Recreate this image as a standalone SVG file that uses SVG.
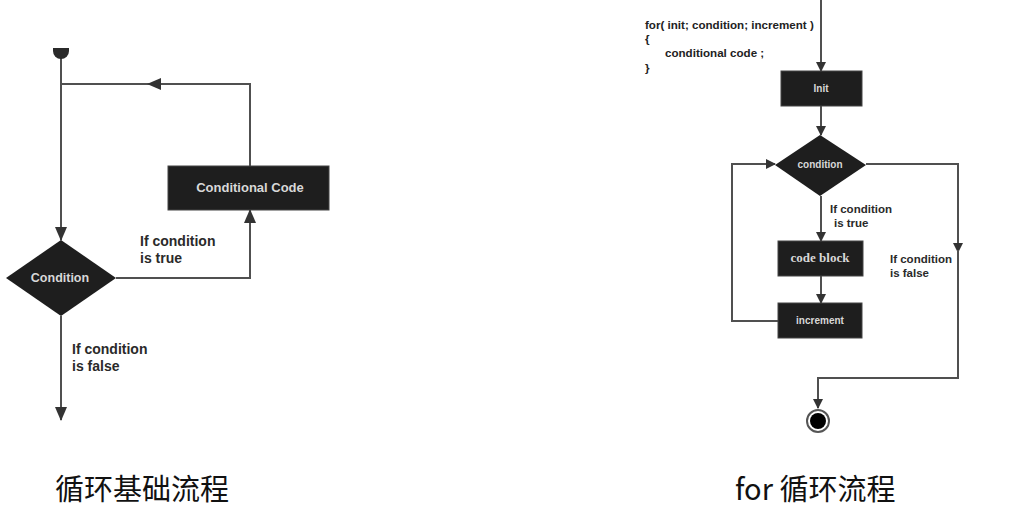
<svg xmlns="http://www.w3.org/2000/svg" width="1019" height="531" viewBox="0 0 1019 531">
<style>
.ln{fill:none;stroke:#505050;stroke-width:2}
.box{fill:#1e1e1e;stroke:#444;stroke-width:1}
.bt{font-family:"Liberation Sans",Arial,sans-serif;font-weight:bold;fill:#d8d8d8;text-anchor:middle}
.lb{font-family:"Liberation Sans",Arial,sans-serif;font-weight:bold;fill:#2a2a2a;font-size:14px}
.lr{font-family:"Liberation Sans",Arial,sans-serif;font-weight:bold;fill:#2a2a2a;font-size:11.5px}
.cd{font-family:"Liberation Sans",Arial,sans-serif;font-weight:bold;fill:#222;font-size:11.6px}
.cap{font-family:"Noto Sans CJK SC","Noto Sans",sans-serif;fill:#111;font-size:29px}
</style>
<defs>
<marker id="ah" markerWidth="10" markerHeight="10" refX="9" refY="5" orient="auto" markerUnits="userSpaceOnUse">
<path d="M0,0 L10,5 L0,10 z" fill="#333"/>
</marker>
<marker id="ah2" markerWidth="14" markerHeight="14" refX="13" refY="7" orient="auto" markerUnits="userSpaceOnUse">
<path d="M0,1 L14,7 L0,13 z" fill="#333"/>
</marker>
</defs>
<rect width="1019" height="531" fill="#ffffff"/>
<g id="connectors">
<path class="ln" d="M61,56 L61,240" marker-end="url(#ah2)"/>
<path class="ln" d="M250,166 L250,84 L61,84"/>
<path class="ln" d="M250,84 L148,84" marker-end="url(#ah2)"/>
<path class="ln" d="M116,278 L250,278 L250,210" marker-end="url(#ah2)"/>
<path class="ln" d="M61,316 L61,420" marker-end="url(#ah2)"/>
<path class="ln" d="M821,0 L821,71" marker-end="url(#ah)"/>
<path class="ln" d="M821,106 L821,135" marker-end="url(#ah)"/>
<path class="ln" d="M821,196 L821,241" marker-end="url(#ah)"/>
<path class="ln" d="M821,276 L821,303" marker-end="url(#ah)"/>
<path class="ln" d="M778,321 L732,321 L732,164 L775,164" marker-end="url(#ah)"/>
<path class="ln" d="M866,164 L958,164 L958,252" marker-end="url(#ah)"/>
<path class="ln" d="M958,250 L958,378 L818,378 L818,408" marker-end="url(#ah)"/>
</g>
<g id="start">
<path d="M53,48 L69,48 L69,51 A8,8 0 0 1 53,51 Z" fill="#2a2a2a"/>
</g>
<g id="cond-code">
<rect class="box" x="168" y="166" width="161" height="44"/>
<text class="bt" x="250" y="192" font-size="13">Conditional Code</text>
</g>
<g id="condition">
<polygon points="61,240 116,278 61,316 6,278" fill="#1e1e1e"/>
<text class="bt" x="60" y="282" font-size="12.5">Condition</text>
</g>
<g id="labels-left">
<text class="lb" x="140" y="246">If condition</text>
<text class="lb" x="140" y="263">is true</text>
<text class="lb" x="72" y="354">If condition</text>
<text class="lb" x="72" y="371">is false</text>
</g>
<g id="code">
<text class="cd" x="645" y="29">for( init; condition; increment )</text>
<text class="cd" x="645" y="43">{</text>
<text class="cd" x="665" y="57">conditional code ;</text>
<text class="cd" x="645" y="72">}</text>
</g>
<g id="init">
<rect class="box" x="781" y="71" width="81" height="35"/>
<text class="bt" x="821" y="92" font-size="10">Init</text>
</g>
<g id="condition2">
<polygon points="820,135 866,165 820,196 775,165" fill="#1e1e1e"/>
<text class="bt" x="820" y="168" font-size="10">condition</text>
</g>
<g id="code-block">
<rect class="box" x="778" y="241" width="85" height="35"/>
<text x="820" y="262" font-size="13" font-weight="bold" text-anchor="middle" fill="#d8d8d8" font-family="'Liberation Serif',serif">code block</text>
</g>
<g id="increment">
<rect class="box" x="778" y="303" width="84" height="35"/>
<text class="bt" x="820" y="324" font-size="10">increment</text>
</g>
<g id="labels-right">
<text class="lr" x="830" y="213">If condition</text>
<text class="lr" x="834" y="227">is true</text>
<text class="lr" x="890" y="263">If condition</text>
<text class="lr" x="890" y="277">is false</text>
</g>
<g id="end">
<circle cx="818" cy="421" r="11" fill="#fff" stroke="#555" stroke-width="2"/>
<circle cx="818" cy="421" r="8" fill="#000"/>
</g>
<g id="captions">
<text class="cap" x="55" y="500">循环基础流程</text>
<text class="cap" x="735" y="500">for 循环流程</text>
</g>
</svg>
